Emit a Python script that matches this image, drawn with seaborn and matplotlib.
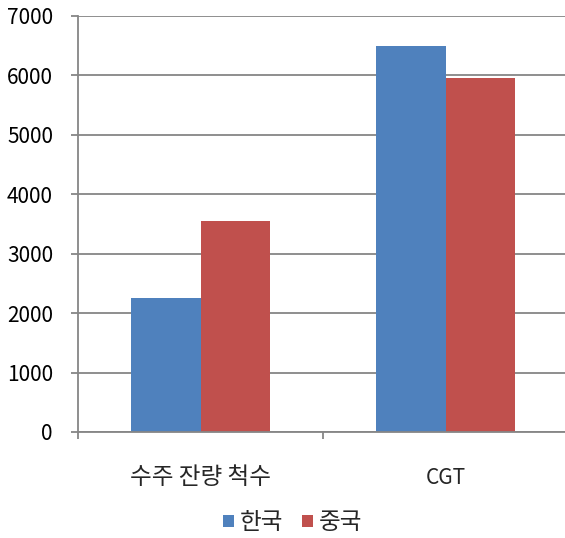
import matplotlib
matplotlib.use('Agg')
import matplotlib.pyplot as plt
import seaborn as sns
import pandas as pd
from matplotlib.patches import Patch

# data
categories = ['수주 잔량 척수', 'CGT']
korea = [2255, 6495]
china = [3550, 5955]
series_names = ['한국', '중국']
colors = ['#4F81BD', '#C0504D']

df = pd.DataFrame({
    'category': categories * 2,
    'country': [series_names[0]] * 2 + [series_names[1]] * 2,
    'value': korea + china,
})

sns.set_style('white')
plt.rcParams['font.family'] = ['Noto Sans CJK KR', 'DejaVu Sans']

fig = plt.figure(figsize=(5.65, 5.38), dpi=100)
ax = fig.add_axes([78 / 565, 106 / 538, 490 / 565, 416 / 538])

sns.barplot(data=df, x='category', y='value', hue='country',
            palette=colors, width=0.571, saturation=1, ax=ax,
            legend=False, linewidth=0)

ax.set_xlim(-0.5, 1.5)
ax.set_ylim(0, 7000)
ax.set_yticks(range(0, 7001, 1000))
ax.yaxis.grid(True, color='#868686', linewidth=1.3)
ax.set_axisbelow(True)
ax.set_xlabel('')
ax.set_ylabel('')

for side in ['top', 'right']:
    ax.spines[side].set_visible(False)
for side in ['left', 'bottom']:
    ax.spines[side].set_color('#868686')
    ax.spines[side].set_linewidth(1.3)

ax.tick_params(axis='y', left=True, length=5, width=1.3, color='#868686',
               labelsize=15, pad=13, labelcolor='#000000')
ax.set_xticks([-0.5, 0.5, 1.5], minor=True)
ax.set_xticks([0, 1])
ax.set_xticklabels(categories)
ax.tick_params(axis='x', which='major', length=0, pad=33)
ax.tick_params(axis='x', which='minor', bottom=True, length=5, width=1.3,
               color='#868686')
# hangul glyphs in the original font are wider than latin ones
for lab in ax.get_xticklabels():
    lab.set_verticalalignment('center')
    lab.set_fontsize(17 if lab.get_text() != 'CGT' else 15)

handles = [Patch(facecolor=c, edgecolor='none') for c in colors]
fig.legend(handles, series_names, loc='center', bbox_to_anchor=(0.518, 0.028),
           ncol=2, frameon=False, fontsize=17, handlelength=0.45,
           handleheight=0.45, handletextpad=0.25, columnspacing=0.8)

fig.savefig('out.png', dpi=100)
